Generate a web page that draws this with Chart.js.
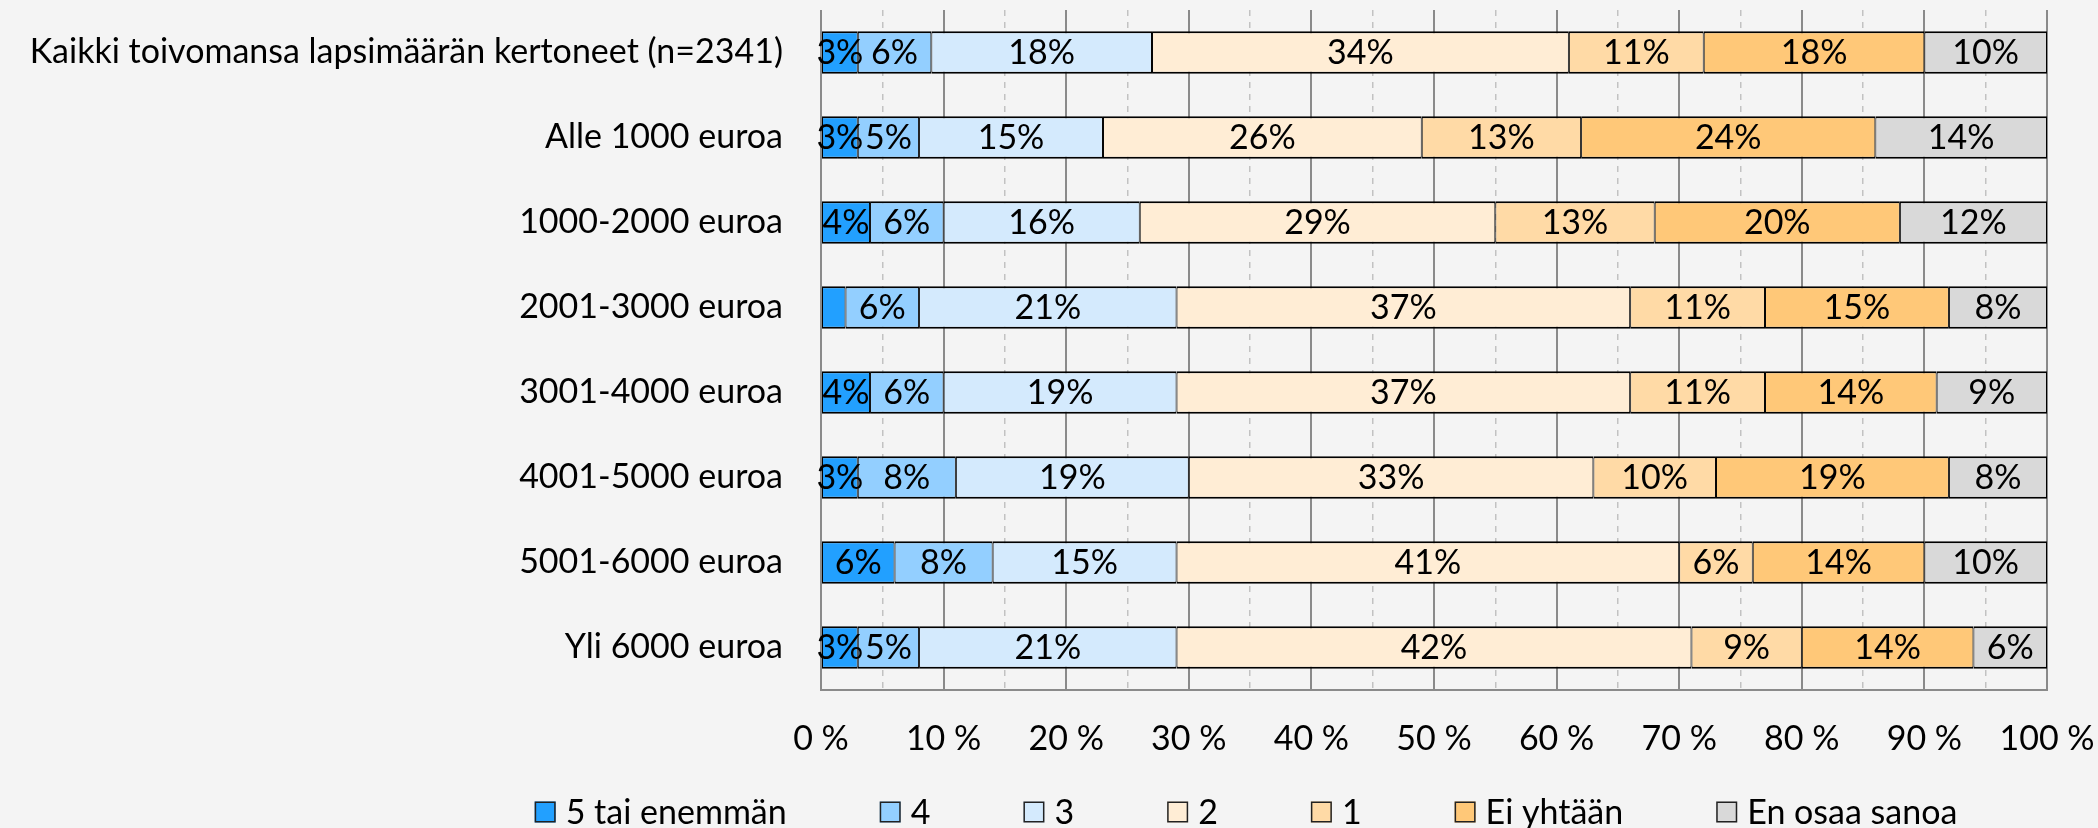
<!DOCTYPE html>
<html>
<head>
<meta charset="utf-8">
<script src="https://cdn.jsdelivr.net/npm/chart.js@4.4.0/dist/chart.umd.min.js"></script>
<style>
html, body { margin: 0; padding: 0; background: #f4f4f4; }
#wrap { width: 2098px; height: 828px; }
canvas { display: block; }
</style>
</head>
<body>
<div id="wrap"><canvas id="c" width="2098" height="828"></canvas></div>
<script>
// ---- Data ----
const categories = [
  "Kaikki toivomansa lapsimäärän kertoneet (n=2341)",
  "Alle 1000 euroa",
  "1000-2000 euroa",
  "2001-3000 euroa",
  "3001-4000 euroa",
  "4001-5000 euroa",
  "5001-6000 euroa",
  "Yli 6000 euroa"
];
const seriesNames = ["5 tai enemmän", "4", "3", "2", "1", "Ei yhtään", "En osaa sanoa"];
const s5plus    = [3, 3, 4, 2, 4, 3, 6, 3];
const s4        = [6, 5, 6, 6, 6, 8, 8, 5];
const s3        = [18, 15, 16, 21, 19, 19, 15, 21];
const s2        = [34, 26, 29, 37, 37, 33, 41, 42];
const s1        = [11, 13, 13, 11, 11, 10, 6, 9];
const sNone     = [18, 24, 20, 15, 14, 19, 14, 14];
const sDontKnow = [10, 14, 12, 8, 9, 8, 10, 6];
const xTickValues = [0, 10, 20, 30, 40, 50, 60, 70, 80, 90, 100];

// ---- Styles ----
const colors = ["#22A0FF", "#93CFFF", "#D4EAFD", "#FFEDD5", "#FFDAA6", "#FFC878", "#D9D9D9"];
const seriesValues = [s5plus, s4, s3, s2, s1, sNone, sDontKnow];
const FONT = "Lato";
const FS = 34;

const datasets = seriesNames.map((name, i) => ({
  label: name,
  data: seriesValues[i],
  backgroundColor: colors[i],
  borderColor: "#000000",
  borderWidth: { top: 2, bottom: 2, left: 1, right: 1 },
  borderSkipped: false,
  xAxisID: "x",
  categoryPercentage: 1.0,
  barPercentage: 0.5
}));

const dataLabelPlugin = {
  id: "segLabels",
  afterDatasetsDraw(chart) {
    const ctx = chart.ctx;
    ctx.save();
    ctx.font = FS + "px " + FONT;
    ctx.fillStyle = "#000";
    ctx.textAlign = "center";
    ctx.textBaseline = "middle";
    chart.data.datasets.forEach((ds, di) => {
      const meta = chart.getDatasetMeta(di);
      meta.data.forEach((bar, j) => {
        const v = ds.data[j];
        if (v == null || v < 3) return;
        const cx = (bar.x + bar.base) / 2;
        ctx.fillText(v + "%", cx, bar.y + 1);
      });
    });
    ctx.restore();
  }
};

const legendPlugin = {
  id: "customLegend",
  afterDraw(chart, args, opts) {
    const ctx = chart.ctx;
    ctx.save();
    ctx.font = FS + "px " + FONT;
    const box = opts.boxSize, gapText = opts.textGap, gapItem = opts.itemGap;
    const items = chart.data.datasets.map(ds => ({ text: ds.label, fill: ds.backgroundColor }));
    let total = 0;
    items.forEach((it, i) => {
      it.w = box + gapText + ctx.measureText(it.text).width;
      total += it.w + (i ? gapItem : 0);
    });
    let x = opts.centerX - total / 2;
    const y = opts.centerY;
    items.forEach(it => {
      ctx.fillStyle = it.fill;
      ctx.fillRect(x, y - box / 2, box, box);
      ctx.lineWidth = 1.5;
      ctx.strokeStyle = "#222";
      ctx.strokeRect(x + 0.75, y - box / 2 + 0.75, box - 1.5, box - 1.5);
      ctx.fillStyle = "#000";
      ctx.textAlign = "left";
      ctx.textBaseline = "middle";
      ctx.fillText(it.text, x + box + gapText, y + 1);
      x += it.w + gapItem;
    });
    ctx.restore();
  }
};

function build() {
  new Chart(document.getElementById("c"), {
    type: "bar",
    data: { labels: categories, datasets: datasets },
    options: {
      indexAxis: "y",
      responsive: false,
      animation: false,
      devicePixelRatio: 1,
      layout: { padding: { top: 10, right: 51, left: 0, bottom: 68 } },
      scales: {
        x: {
          type: "linear",
          position: "bottom",
          stacked: true,
          min: 0,
          max: 100,
          afterBuildTicks: s => { s.ticks = xTickValues.map(v => ({ value: v })); },
          ticks: {
            font: { family: FONT, size: FS },
            color: "#000",
            padding: 29,
            callback: v => v + " %"
          },
          grid: { color: "#8a8a8a", lineWidth: 2, drawTicks: false },
          border: { display: true, color: "#8a8a8a", width: 2 },
          afterFit: s => { s.height = 70; s.paddingLeft = 0; s.paddingRight = 0; }
        },
        x2: {
          type: "linear",
          position: "bottom",
          min: 0,
          max: 100,
          ticks: { display: false, stepSize: 5 },
          grid: {
            drawTicks: false,
            lineWidth: 1.5,
            color: c => (c.tick && c.tick.value % 10 !== 0) ? "#c2c2c2" : "rgba(0,0,0,0)"
          },
          border: { display: false, dash: [6, 6] },
          afterFit: s => { s.height = 0; s.paddingLeft = 0; s.paddingRight = 0; }
        },
        y: {
          stacked: true,
          ticks: {
            font: { family: FONT, size: FS },
            color: "#000",
            padding: 38
          },
          grid: { display: false, drawTicks: false },
          border: { display: false },
          afterFit: s => { s.width = 821; s.paddingTop = 0; s.paddingBottom = 0; }
        }
      },
      plugins: {
        legend: { display: false },
        tooltip: { enabled: false },
        customLegend: { boxSize: 21, textGap: 10, itemGap: 93, centerX: 1246, centerY: 812 }
      }
    },
    plugins: [dataLabelPlugin, legendPlugin]
  });
}

if (document.fonts && document.fonts.load) {
  document.fonts.load(FS + "px " + FONT).then(build, build);
} else {
  build();
}
</script>
</body>
</html>
